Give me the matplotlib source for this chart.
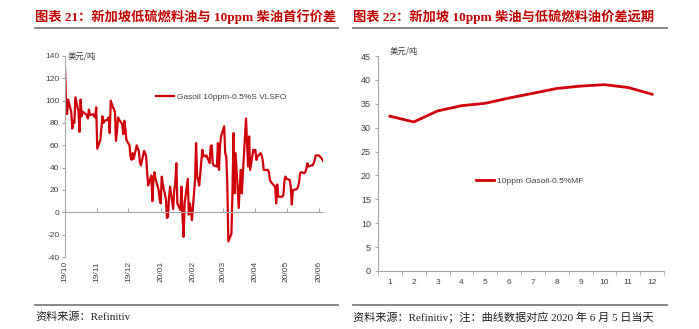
import matplotlib
matplotlib.use("Agg")
import matplotlib.pyplot as plt
import matplotlib.dates as mdates
from matplotlib.lines import Line2D
import pandas as pd

plt.rcParams["axes.unicode_minus"] = False

# ---- data -------------------------------------------------------------
# daily Gasoil 10ppm - 0.5%S VLSFO front-month spread (USD/t), business days
spread_start = "2019-10-01"
spread_values = [
    # Oct 2019
    130, 100, 88, 101, 90, 75, 82, 80, 103, 90, 72, 101, 86, 90, 88, 87, 84, 92, 87, 88, 86, 85, 94,
    # Nov 2019
    57, 65, 75, 86, 80, 82, 83, 85, 71, 100, 97, 90, 64, 73, 85, 83, 79, 70, 82, 75, 65,
    # Dec 2019
    60, 50, 47, 53, 48, 60, 57, 55, 45, 42, 55, 53, 50, 35, 24, 33, 10, 30, 36, 30, 20, 12,
    # Jan 2020
    8, 32, 25, 12, -5, -4, 14, 23, 3, 20, 26, 44, 8, 2, 23, -4, -22, 8, 30, -2, 8, 2, -7,
    # Feb 2020
    29, 62, 32, 29, 24, 56, 50, 51, 50, 51, 44, 59, 60, 44, 42, 41, 62, 38, 59, 68,
    # Mar 2020
    77, 53, 50, 26, -26, -19, 20, 71, 17, 53, 4, 23, 38, 17, 35, 84, 62, 41, 68, 38, 56, 54,
    # Apr 2020
    56, 47, 50, 53, 51, 47, 38, 38, 38, 36, 29, 27, 26, 23, 8, 25, 14, 14, 14, 16, 29, 32,
    # May 2020
    30, 29, 23, 7, 20, 20, 21, 23, 27, 35, 36, 35, 36, 39, 44, 41, 42, 42, 44, 47, 51,
    # Jun 2020
    51, 50, 49, 48, 46,
]
spread_label = "Gasoil 10ppm-0.5%S VLSFO"
month_ticks = pd.date_range("2019-10-01", "2020-06-01", freq="MS")

# forward curve 10ppm Gasoil - 0.5% MF (USD/t), months 1..12
fwd_months = list(range(1, 13))
fwd_values = [32.4, 31.2, 33.5, 34.6, 35.1, 36.2, 37.2, 38.2, 38.7, 39.0, 38.4, 37.0]
fwd_label = "10ppm Gasoil-0.5%MF"

title_left = "图表 21：新加坡低硫燃料油与 10ppm 柴油首行价差"
title_right = "图表 22：新加坡 10ppm 柴油与低硫燃料油价差远期"
source_left = "资料来源：Refinitiv"
source_right = "资料来源：Refinitiv；注：曲线数据对应 2020 年 6 月 5 日当天"
unit = "美元/吨"

# ---- style ------------------------------------------------------------
W, H = 699, 329
RED = "#D0000A"
TITLE_RED = "#C00000"
GRAY = "#A6A6A6"
TICK_FONT = ["Liberation Sans Narrow", "Liberation Sans", "DejaVu Sans"]
CJK_SERIF = ["Liberation Serif", "Noto Sans CJK SC"]
CJK_SANS = ["Noto Sans CJK SC", "DejaVu Sans"]

fig = plt.figure(figsize=(W / 100, H / 100), dpi=100)
fig.patch.set_facecolor("white")


def fx(px):
    return px / W


def fy(py):
    return 1 - py / H


# headers, rules and sources
for x0, x1, title, src in [(35, 338, title_left, source_left),
                           (353, 667, title_right, source_right)]:
    fig.text(fx(x0), fy(17), title, color=TITLE_RED, fontsize=9.5,
             fontweight="bold", family=CJK_SERIF, va="center", ha="left")
    fig.add_artist(Line2D([fx(x0), fx(x1)], [fy(28), fy(28)],
                          color="#7F7F7F", lw=1.3, transform=fig.transFigure))
    fig.add_artist(Line2D([fx(x0), fx(x1)], [fy(305), fy(305)],
                          color="#7F7F7F", lw=1.3, transform=fig.transFigure))
    fig.text(fx(x0), fy(317), src, color="#222222", fontsize=8,
             family=CJK_SERIF, va="center", ha="left")

# ---- left: daily spread -------------------------------------------------
dates = pd.bdate_range(spread_start, periods=len(spread_values))
axL = fig.add_axes([fx(65), fy(257), fx(323) - fx(65), fy(56) - fy(257)])
axL.plot(dates, spread_values, color=RED, lw=1.6, label=spread_label)
axL.set_ylim(-40, 140)
axL.set_yticks(range(-40, 141, 20))
axL.set_xlim(dates[0], dates[-1])
axL.set_xticks(month_ticks)
for s in ["top", "right"]:
    axL.spines[s].set_visible(False)
axL.spines["left"].set_color(GRAY)
axL.spines["bottom"].set_color(GRAY)
axL.spines["bottom"].set_position(("data", 0))
axL.tick_params(axis="x", direction="in", length=3, color=GRAY, labelbottom=False)
axL.tick_params(axis="y", direction="out", length=2, color=GRAY,
                labelsize=6, labelcolor="#404040", pad=2)
for t in axL.get_yticklabels():
    t.set_family(TICK_FONT)
sec = axL.secondary_xaxis(0)
sec.set_xticks(month_ticks)
sec.xaxis.set_major_formatter(mdates.DateFormatter("%y/%m"))
sec.spines["bottom"].set_visible(False)
sec.tick_params(length=0, labelsize=6, labelcolor="#404040", pad=3, labelrotation=90)
for t in sec.get_xticklabels():
    t.set_family(TICK_FONT)
axL.text(0.01, 1.0, unit, transform=axL.transAxes, fontsize=6,
         family=CJK_SANS, color="#404040", va="center", ha="left")
axL.legend(loc="upper left", bbox_to_anchor=(0.34, 0.83), frameon=False,
           handlelength=2.2, handletextpad=0.3, borderaxespad=0,
           prop={"family": TICK_FONT, "size": 6})
for t in axL.get_legend().get_texts():
    t.set_color("#404040")

# ---- right: forward curve -----------------------------------------------
axR = fig.add_axes([fx(378), fy(271), fx(664) - fx(378), fy(56) - fy(271)])
axR.plot(fwd_months, fwd_values, color=RED, lw=2.0, label=fwd_label)
axR.set_ylim(0, 45)
axR.set_yticks(range(0, 46, 5))
axR.set_xlim(0.5, 12.5)
axR.set_xticks(fwd_months)
axR.set_xticks([m + 0.5 for m in [0] + fwd_months], minor=True)
for s in ["top", "right"]:
    axR.spines[s].set_visible(False)
axR.spines["left"].set_color(GRAY)
axR.spines["bottom"].set_color(GRAY)
axR.tick_params(axis="x", which="major", length=0, labelsize=6,
                labelcolor="#404040", pad=6)
axR.tick_params(axis="x", which="minor", direction="out", length=3, color=GRAY)
axR.tick_params(axis="y", direction="out", length=2, color=GRAY,
                labelsize=6.5, labelcolor="#404040", pad=3)
for t in axR.get_xticklabels() + axR.get_yticklabels():
    t.set_family(TICK_FONT)
axR.text(0.04, 1.025, unit, transform=axR.transAxes, fontsize=6,
         family=CJK_SANS, color="#404040", va="center", ha="left")
axR.legend(loc="center left", bbox_to_anchor=(0.33, 0.42), frameon=False,
           handlelength=2.2, handletextpad=0.3, borderaxespad=0,
           prop={"family": TICK_FONT, "size": 6})
for t in axR.get_legend().get_texts():
    t.set_color("#404040")

fig.savefig("out.png", dpi=100, facecolor="white")
